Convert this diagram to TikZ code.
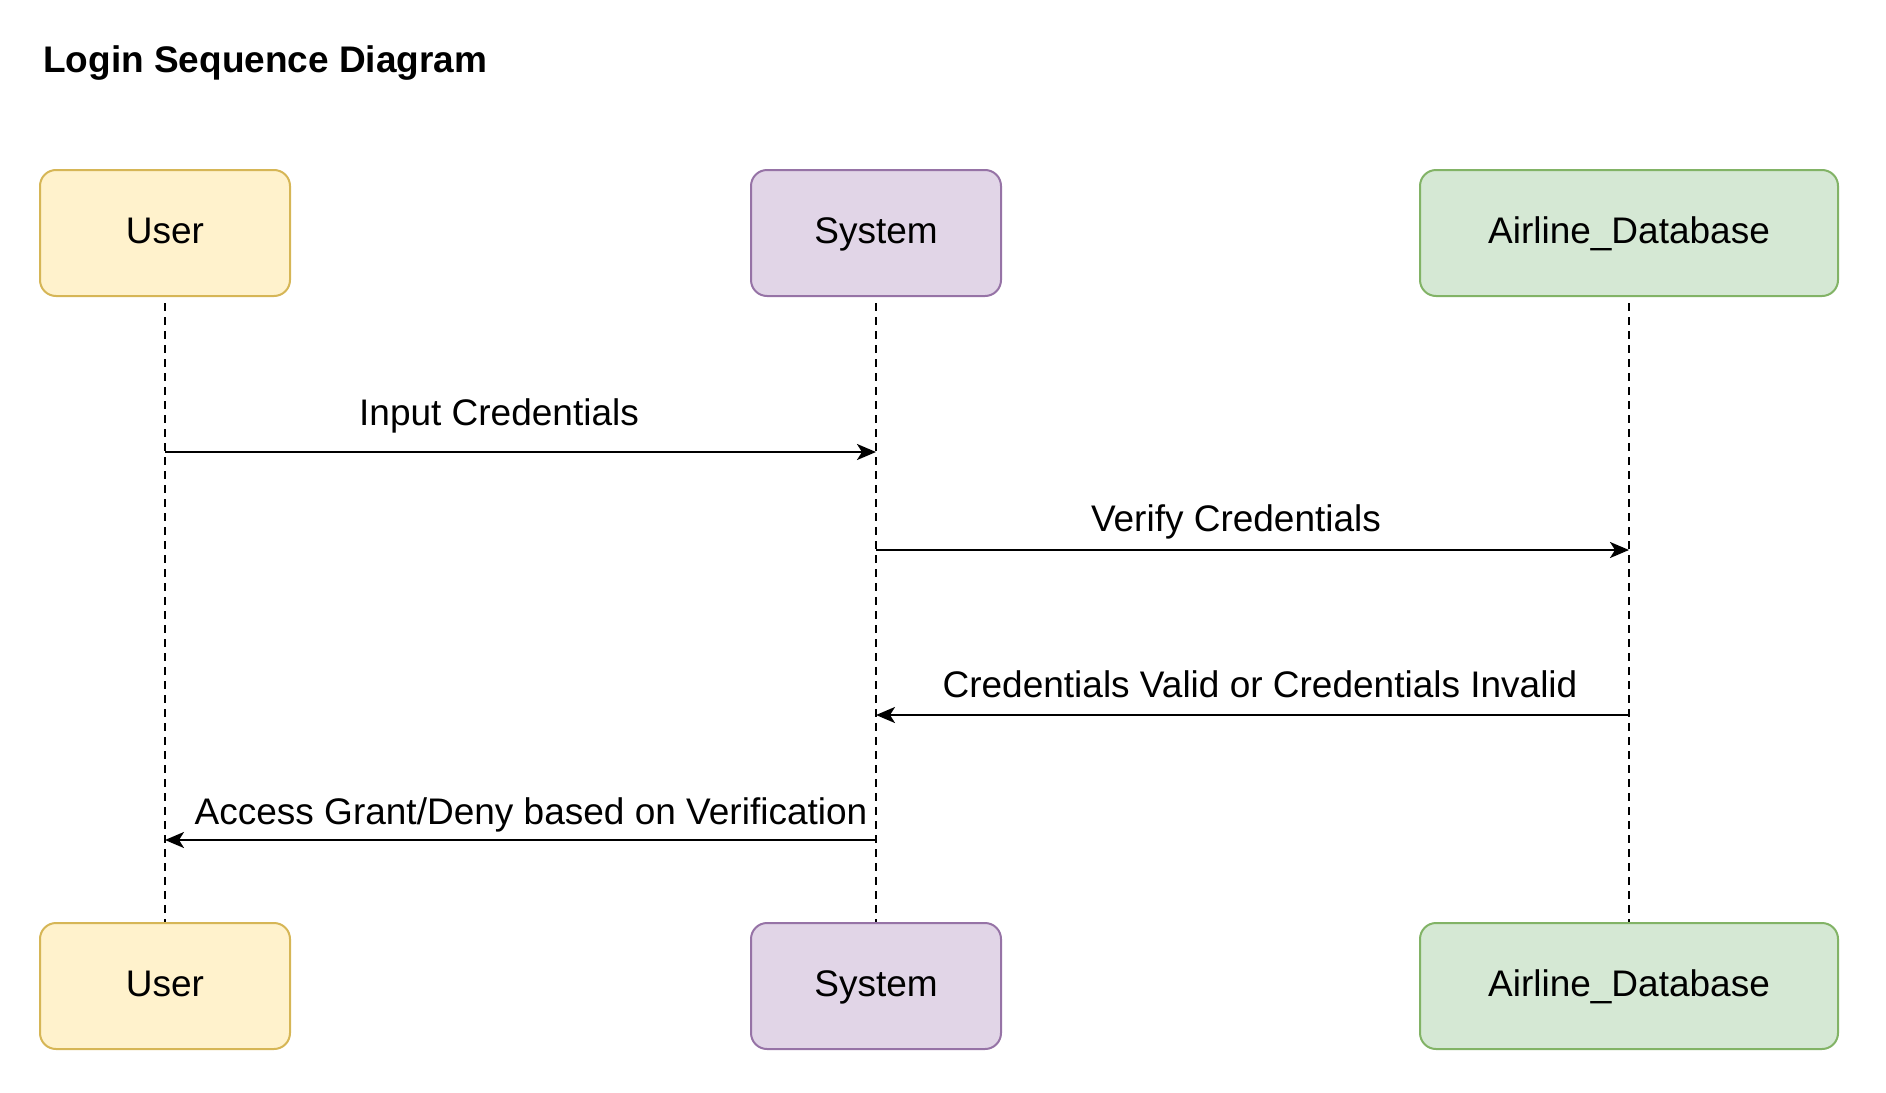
\documentclass[tikz,border=0pt]{standalone}
\usepackage{fontspec}
\setmainfont{Liberation Sans}
\usetikzlibrary{arrows.meta}

\definecolor{userfill}{HTML}{FFF2CC}
\definecolor{userline}{HTML}{D6B656}
\definecolor{sysfill}{HTML}{E1D5E7}
\definecolor{sysline}{HTML}{9673A6}
\definecolor{dbfill}{HTML}{D5E8D4}
\definecolor{dbline}{HTML}{82B366}

\tikzset{
	actor/.style={draw, rounded corners=16pt, line width=2pt, minimum width=250pt,
		minimum height=126pt, inner sep=0pt, text height=27pt, text depth=7pt,
		font=\fontsize{37}{44}\selectfont},
	lifeline/.style={line width=1.8pt, dash pattern=on 8pt off 6pt, shorten <=6pt},
	msg/.style={line width=2.4pt, -{Stealth[length=19pt,width=16pt,inset=5pt]}},
	msglabel/.style={anchor=base, inner sep=0pt, font=\fontsize{37}{44}\selectfont}
}

\begin{document}
\begin{tikzpicture}[x=1pt,y=-1pt]
		\useasboundingbox (0,0) rectangle (1886,1092);
		\node[anchor=base west, inner sep=0pt, font=\fontsize{37}{44}\selectfont\bfseries] (title) at (43,72) {Login Sequence Diagram};
		% actors, top and bottom
		\node[actor, fill=userfill, draw=userline] (user) at (165,233) {User};
		\node[actor, fill=sysfill, draw=sysline] (sys) at (876,233) {System};
		\node[actor, fill=dbfill, draw=dbline, minimum width=418pt] (db) at (1629,233) {Airline\_Database};
		\node[actor, fill=userfill, draw=userline] (userb) at (165,986) {User};
		\node[actor, fill=sysfill, draw=sysline] (sysb) at (876,986) {System};
		\node[actor, fill=dbfill, draw=dbline, minimum width=418pt] (dbb) at (1629,986) {Airline\_Database};
		% lifelines
		\draw[lifeline] (user.south) -- (userb.north);
		\draw[lifeline] (sys.south) -- (sysb.north);
		\draw[lifeline] (db.south) -- (dbb.north);
		% message points on the lifelines
		\coordinate (in1) at (165,452);
		\coordinate (in2) at (876,452);
		\coordinate (ver1) at (876,550);
		\coordinate (ver2) at (1629,550);
		\coordinate (res1) at (1629,715);
		\coordinate (res2) at (876,715);
		\coordinate (acc1) at (876,840);
		\coordinate (acc2) at (165,840);
		\draw[msg] (in1) -- (in2);
		\draw[msg] (ver1) -- (ver2);
		\draw[msg] (res1) -- (res2);
		\draw[msg] (acc1) -- (acc2);
		\node[msglabel] (inlbl) at (499,425) {Input Credentials};
		\node[msglabel] (verlbl) at (1236,531) {Verify Credentials};
		\node[msglabel] (reslbl) at (1260,697) {Credentials Valid or Credentials Invalid};
		\node[msglabel] (acclbl) at (531,824) {Access Grant/Deny based on Verification};
	\end{tikzpicture}
\end{document}
